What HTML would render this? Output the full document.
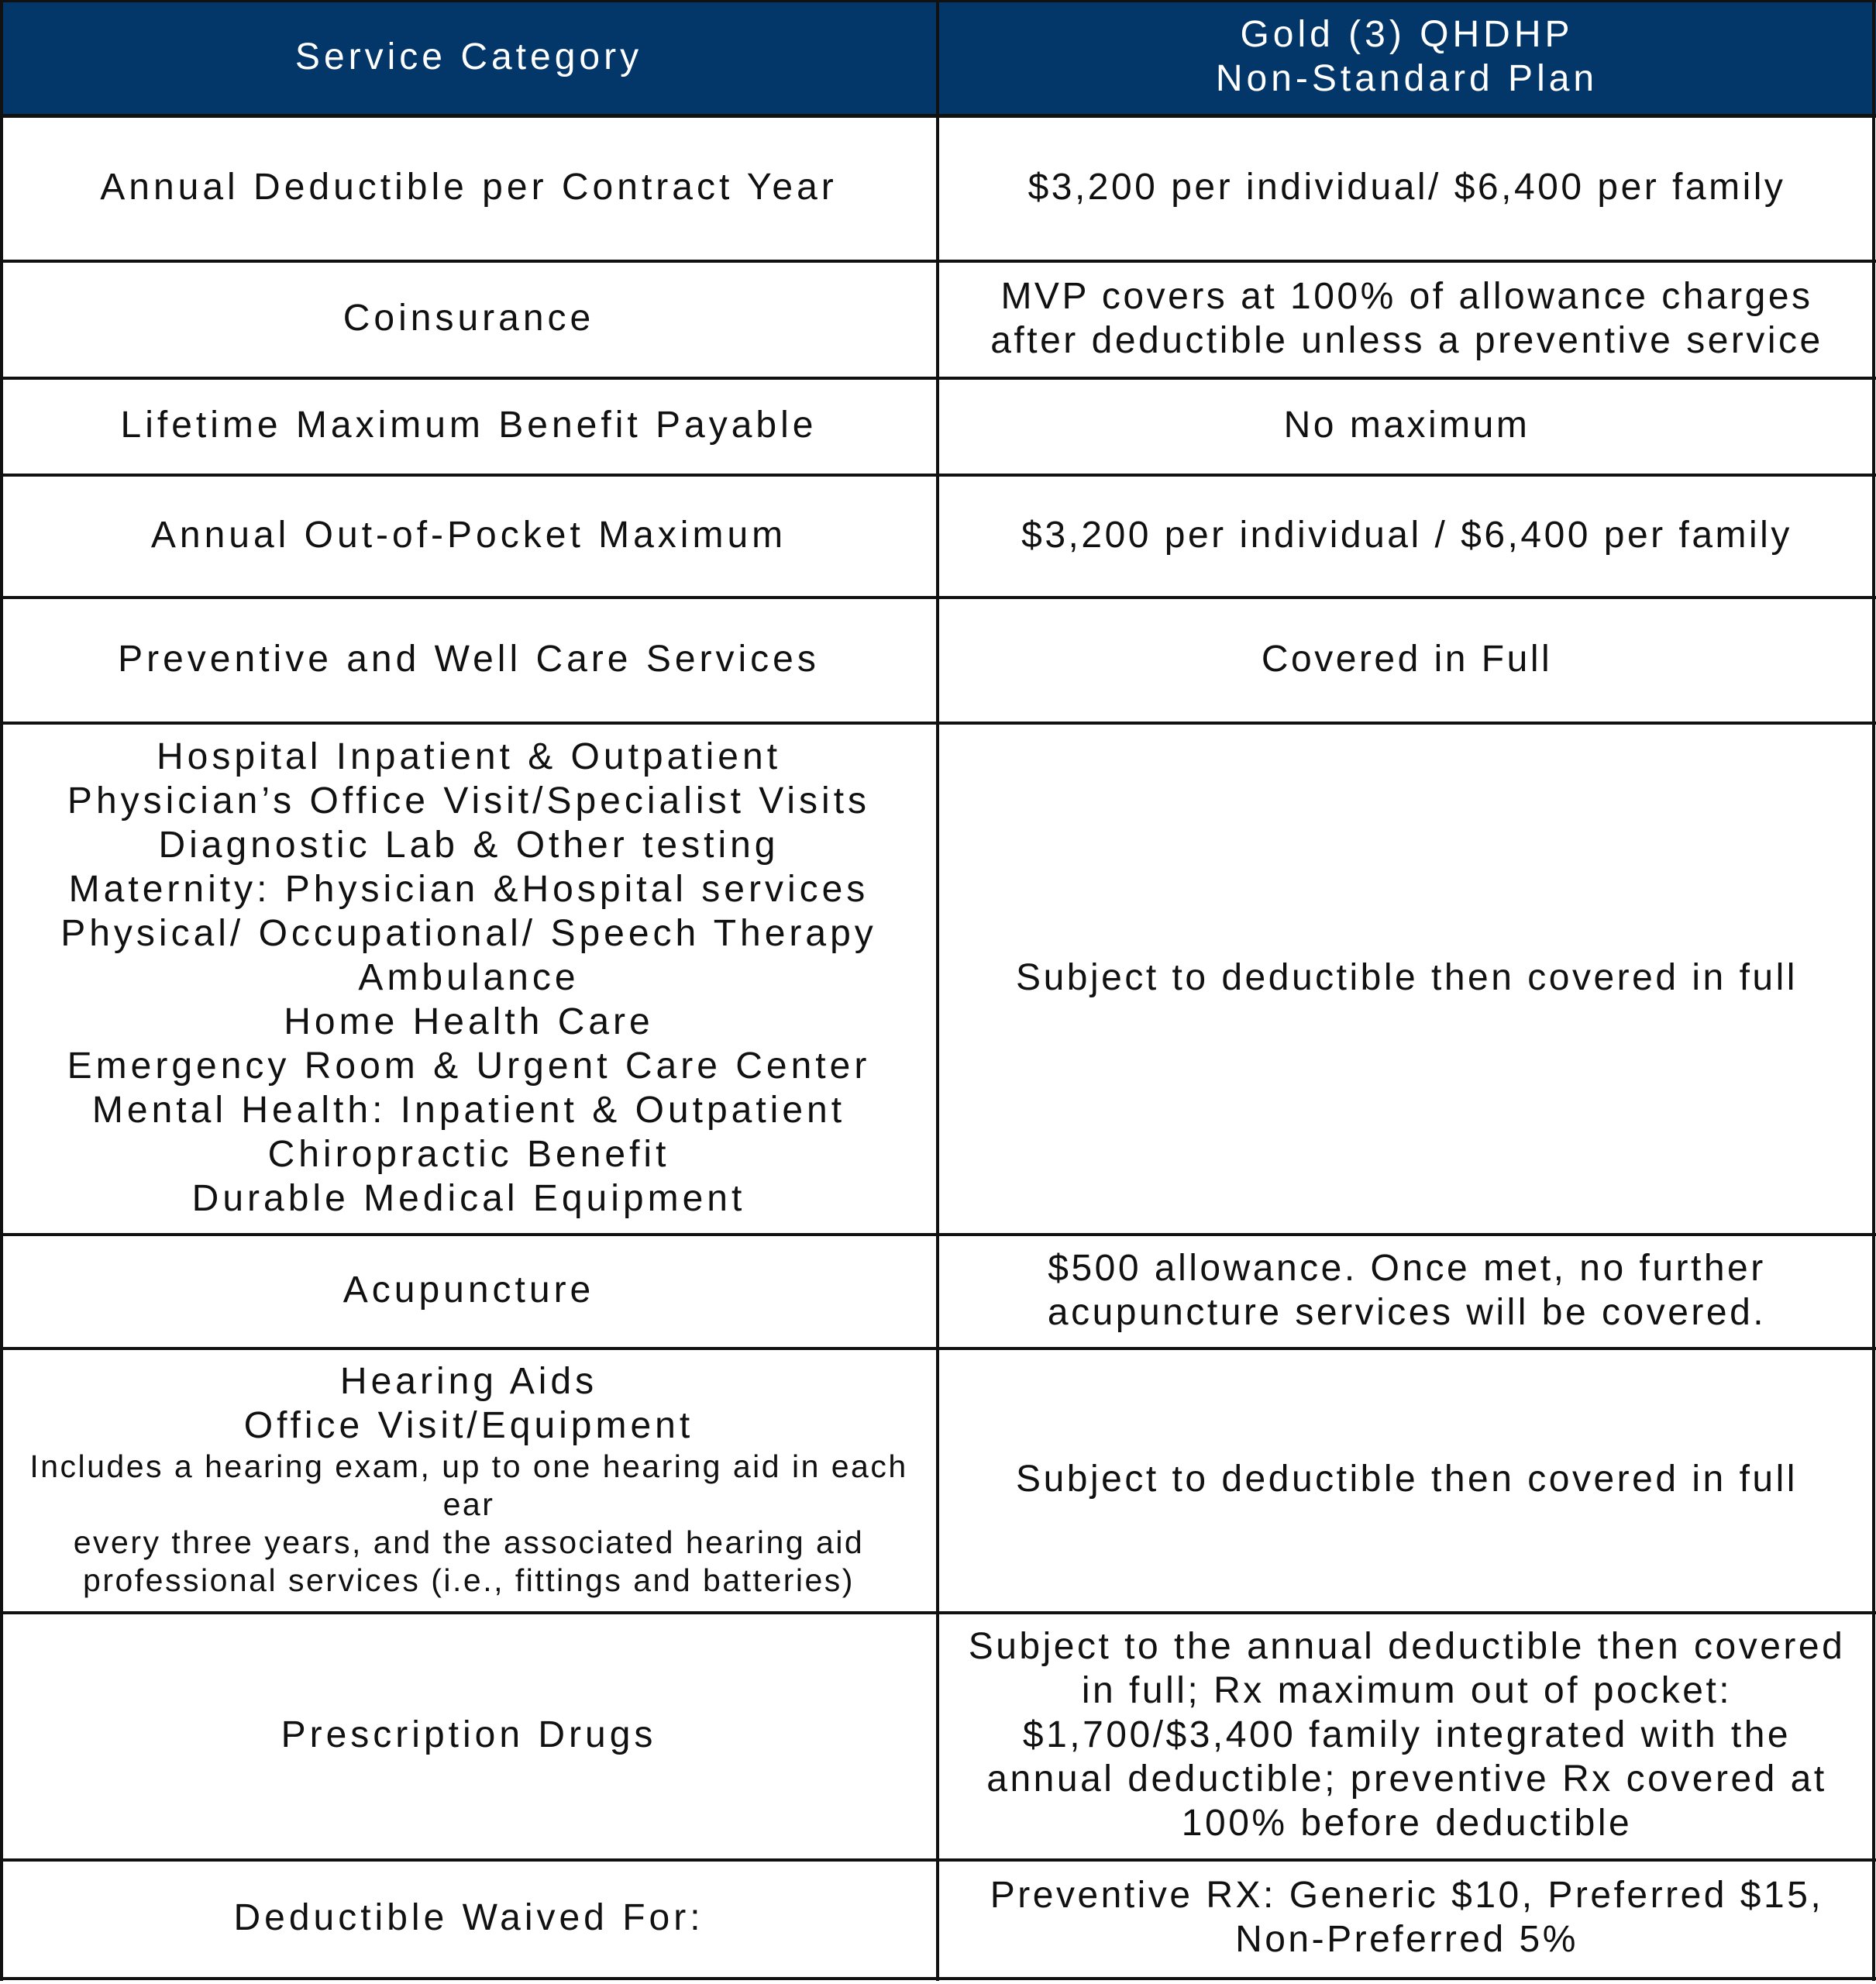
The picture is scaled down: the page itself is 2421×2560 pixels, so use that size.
<!DOCTYPE html>
<html><head><meta charset="utf-8"><style>
body{margin:0;width:2421px;height:2560px;background:#fff;position:relative;overflow:hidden;font-family:"Liberation Sans",sans-serif;}
.c{position:absolute;display:flex;align-items:center;justify-content:center;text-align:center;font-size:48px;line-height:57px;letter-spacing:5px;color:#111;box-sizing:border-box;padding-bottom:4px;}
.r{letter-spacing:3.5px;}
.h{background:#033769;color:#fff;}
.l{position:absolute;background:#111;}
.s{font-size:41px;line-height:49px;letter-spacing:2.5px;}
</style></head><body>
<div class="c h" style="left:0;top:0;width:1210px;height:150px">Service Category</div>
<div class="c h" style="left:1210px;top:0;width:1211px;height:150px">Gold (3) QHDHP<br>Non-Standard Plan</div>

<div class="c" style="left:0;top:150px;width:1210px;height:187px">Annual Deductible per Contract Year</div>
<div class="c r" style="left:1210px;top:150px;width:1211px;height:187px">$3,200 per individual/ $6,400 per family</div>

<div class="c" style="left:0;top:337px;width:1210px;height:151px">Coinsurance</div>
<div class="c r" style="left:1210px;top:337px;width:1211px;height:151px">MVP covers at 100% of allowance charges<br>after deductible unless a preventive service</div>

<div class="c" style="left:0;top:488px;width:1210px;height:125px">Lifetime Maximum Benefit Payable</div>
<div class="c r" style="left:1210px;top:488px;width:1211px;height:125px">No maximum</div>

<div class="c" style="left:0;top:613px;width:1210px;height:158px">Annual Out-of-Pocket Maximum</div>
<div class="c r" style="left:1210px;top:613px;width:1211px;height:158px">$3,200 per individual / $6,400 per family</div>

<div class="c" style="left:0;top:771px;width:1210px;height:162px">Preventive and Well Care Services</div>
<div class="c r" style="left:1210px;top:771px;width:1211px;height:162px">Covered in Full</div>

<div class="c" style="left:0;top:933px;width:1210px;height:660px">Hospital Inpatient &amp; Outpatient<br>Physician’s Office Visit/Specialist Visits<br>Diagnostic Lab &amp; Other testing<br>Maternity: Physician &amp;Hospital services<br>Physical/ Occupational/ Speech Therapy<br>Ambulance<br>Home Health Care<br>Emergency Room &amp; Urgent Care Center<br>Mental Health: Inpatient &amp; Outpatient<br>Chiropractic Benefit<br>Durable Medical Equipment</div>
<div class="c r" style="left:1210px;top:933px;width:1211px;height:660px">Subject to deductible then covered in full</div>

<div class="c" style="left:0;top:1593px;width:1210px;height:147px">Acupuncture</div>
<div class="c r" style="left:1210px;top:1593px;width:1211px;height:147px">$500 allowance. Once met, no further<br>acupuncture services will be covered.</div>

<div class="c" style="left:0;top:1740px;width:1210px;height:341px"><div>Hearing Aids<br>Office Visit/Equipment<div class="s">Includes a hearing exam, up to one hearing aid in each<br>ear<br>every three years, and the associated hearing aid<br>professional services (i.e., fittings and batteries)</div></div></div>
<div class="c r" style="left:1210px;top:1740px;width:1211px;height:341px">Subject to deductible then covered in full</div>

<div class="c" style="left:0;top:2081px;width:1210px;height:319px">Prescription Drugs</div>
<div class="c r" style="left:1210px;top:2081px;width:1211px;height:319px">Subject to the annual deductible then covered<br>in full; Rx maximum out of pocket:<br>$1,700/$3,400 family integrated with the<br>annual deductible; preventive Rx covered at<br>100% before deductible</div>

<div class="c" style="left:0;top:2400px;width:1210px;height:152px">Deductible Waived For:</div>
<div class="c r" style="left:1210px;top:2400px;width:1211px;height:152px">Preventive RX: Generic $10, Preferred $15,<br>Non-Preferred 5%</div>

<div class="l" style="left:0;top:0;width:4px;height:2556px"></div>
<div class="l" style="left:2416px;top:0;width:4px;height:2556px"></div>
<div class="l" style="left:1208px;top:0;width:4px;height:2556px"></div>
<div class="l" style="left:0;top:0;width:2421px;height:3px"></div>
<div class="l" style="left:0;top:147px;width:2421px;height:5px"></div>
<div class="l" style="left:0;top:335px;width:2421px;height:4px"></div>
<div class="l" style="left:0;top:486px;width:2421px;height:4px"></div>
<div class="l" style="left:0;top:611px;width:2421px;height:4px"></div>
<div class="l" style="left:0;top:769px;width:2421px;height:4px"></div>
<div class="l" style="left:0;top:931px;width:2421px;height:4px"></div>
<div class="l" style="left:0;top:1591px;width:2421px;height:4px"></div>
<div class="l" style="left:0;top:1738px;width:2421px;height:4px"></div>
<div class="l" style="left:0;top:2079px;width:2421px;height:4px"></div>
<div class="l" style="left:0;top:2398px;width:2421px;height:4px"></div>
<div class="l" style="left:0;top:2551px;width:2421px;height:4px"></div>
</body></html>
